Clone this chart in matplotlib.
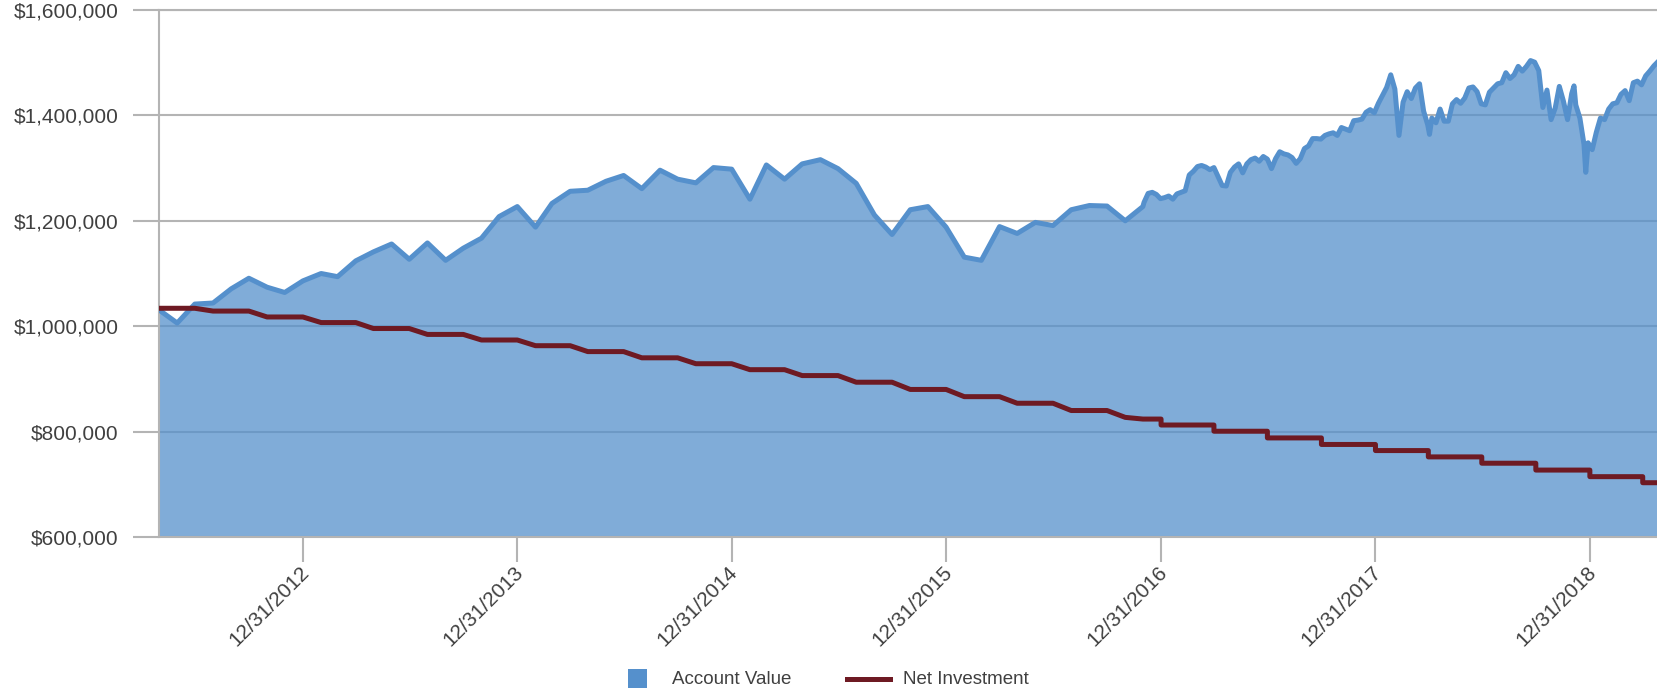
import numpy as np
import pandas as pd
import matplotlib
matplotlib.use("Agg")
import matplotlib.pyplot as plt
import matplotlib.dates as mdates
import matplotlib.ticker as mticker
import matplotlib.transforms as mtransforms
from matplotlib.patches import Rectangle
from matplotlib.lines import Line2D

plt.rcParams['font.family'] = ['Liberation Sans', 'DejaVu Sans']

BLUE = '#5590cc'
RED = '#6e1a23'
GRID = '#b4b4b4'
TEXT = '#404040'

# account value, month ends Apr 2012 - Nov 2016 (thousands of $)
monthly_dates = pd.date_range('2012-04-30', periods=56, freq=pd.offsets.MonthEnd())
monthly_value = [1031, 1006, 1042, 1044, 1071, 1091, 1074, 1064,
                 1086, 1100, 1094, 1124, 1141, 1156, 1127, 1158, 1125, 1148, 1167, 1208,
                 1227, 1188, 1233, 1256, 1258, 1275, 1286, 1261, 1296, 1279, 1272, 1301,
                 1298, 1241, 1306, 1279, 1308, 1316, 1299, 1271, 1211, 1174, 1221, 1227,
                 1188, 1131, 1125, 1189, 1176, 1197, 1191, 1221, 1229, 1228, 1200, 1227]

# account value, weekly from Dec 2016 on
weekly_dates = pd.date_range('2016-12-02', '2019-04-26', freq='W-FRI')
weekly_value = [1235, 1252, 1254, 1250, 1242, 1244, 1247, 1241, 1251, 1254,
                1257, 1287, 1294, 1303, 1305, 1302, 1297, 1301, 1284, 1267,
                1266, 1292, 1302, 1308, 1291, 1308, 1316, 1319, 1313, 1322,
                1317, 1299, 1318, 1331, 1327, 1325, 1320, 1309, 1318, 1337,
                1342, 1356, 1356, 1355, 1362, 1365, 1367, 1362, 1377, 1374,
                1371, 1390, 1391, 1393, 1406, 1411, 1405, 1423, 1438, 1453,
                1477, 1450, 1362, 1425, 1445, 1432, 1452, 1460, 1408, 1382,
                1395, 1386, 1412, 1389, 1389, 1422, 1430, 1423, 1433, 1452,
                1454, 1445, 1422, 1420, 1444, 1452, 1460, 1462, 1481, 1470,
                1477, 1493, 1484, 1493, 1504, 1501, 1485, 1415, 1448, 1392,
                1414, 1455, 1427, 1392, 1441, 1420, 1395, 1345, 1348, 1335,
                1368, 1395, 1392, 1412, 1422, 1424, 1440, 1447, 1428, 1462,
                1465, 1458, 1475, 1484, 1494, 1502]

# a few single days where the daily line spikes
spike_dates = pd.to_datetime(['2018-04-02', '2018-12-04', '2018-12-24'])
spike_value = [1364, 1456, 1292]

# net investment (thousands of $)
monthly_invest = [1034, 1034, 1034, 1028.7, 1028.7, 1028.7, 1017.5, 1017.5,
                  1017.5, 1006.9, 1006.9, 1006.9, 995.6, 995.6, 995.6, 984.4, 984.4, 984.4, 973.8, 973.8,
                  973.8, 963.0, 963.0, 963.0, 951.8, 951.8, 951.8, 940.0, 940.0, 940.0, 928.8, 928.8,
                  928.8, 917.5, 917.5, 917.5, 906.3, 906.3, 906.3, 893.7, 893.7, 893.7, 880.0, 880.0,
                  880.0, 866.3, 866.3, 866.3, 853.8, 853.8, 853.8, 840.0, 840.0, 840.0, 827.0, 823.8]
step_dates = pd.to_datetime(['2016-12-31', '2017-03-31', '2017-06-30', '2017-09-30', '2017-12-31',
                             '2018-03-31', '2018-06-30', '2018-09-30', '2018-12-31', '2019-03-31'])
step_invest = [812.5, 800.7, 788.0, 775.6, 764.0, 752.0, 740.0, 727.0, 714.5, 703.0]
end_date = pd.Timestamp('2019-04-26')

tick_dates = pd.to_datetime(['2012-12-31', '2013-12-31', '2014-12-31', '2015-12-31',
                             '2016-12-31', '2017-12-31', '2018-12-31'])

# assemble series
acct = pd.concat([pd.Series(monthly_value, index=monthly_dates),
                  pd.Series(weekly_value, index=weekly_dates),
                  pd.Series(spike_value, index=spike_dates)]).sort_index() * 1000

inv_x = list(monthly_dates)
inv_y = list(monthly_invest)
level = monthly_invest[-1]
for d, v in zip(step_dates, step_invest):
    inv_x += [d, d]
    inv_y += [level, v]
    level = v
inv_x.append(end_date)
inv_y.append(level)
inv_y = np.array(inv_y) * 1000

W, H = 1658, 691
fig = plt.figure(figsize=(W / 100, H / 100), dpi=100)
ax = fig.add_axes([159 / W, 1 - 537 / H, 1 - 159 / W, 527 / H])

ax.fill_between(acct.index, 600000, acct.values, color=BLUE, alpha=0.75, lw=0, zorder=2)
ax.plot(acct.index, acct.values, color=BLUE, lw=3.6, zorder=3, solid_joinstyle='round')
ax.plot(inv_x, inv_y, color=RED, lw=3.6, zorder=4)

ax.set_ylim(600000, 1600000)
ax.set_xlim(pd.Timestamp('2012-04-30'), end_date)
ax.set_yticks(np.arange(600000, 1600001, 200000))
ax.yaxis.set_major_formatter(mticker.FuncFormatter(lambda v, p: f"${v:,.0f}"))
ax.set_xticks(tick_dates)
ax.xaxis.set_major_formatter(mdates.DateFormatter('%m/%d/%Y'))

ax.set_axisbelow(True)
ax.yaxis.grid(True, color=GRID, lw=1.5, zorder=1)
ax.spines['right'].set_visible(False)
for s in ['left', 'bottom', 'top']:
    ax.spines[s].set_color(GRID)
    ax.spines[s].set_linewidth(1.5)

ax.tick_params(axis='y', length=18.5, width=1.5, color=GRID, pad=10.5,
               labelsize=15, labelcolor=TEXT)
ax.tick_params(axis='x', length=18, width=1.5, color=GRID, pad=5,
               labelsize=15, labelcolor=TEXT)
shift = mtransforms.ScaledTranslation(3 / 100, 0, fig.dpi_scale_trans)
for lab in ax.get_xticklabels():
    lab.set_rotation(45)
    lab.set_ha('right')
    lab.set_va('center')
    lab.set_rotation_mode('anchor')
    lab.set_transform(lab.get_transform() + shift)

# legend along the bottom
ly = 1 - 679 / H
fig.patches.append(Rectangle((628 / W, 1 - 688 / H), 19 / W, 19 / H,
                             transform=fig.transFigure, color=BLUE, lw=0))
fig.text(672 / W, ly, 'Account Value', va='center', fontsize=13.5, color=TEXT)
fig.add_artist(Line2D([847 / W, 890 / W], [ly, ly], color=RED, lw=3.6,
                      transform=fig.transFigure))
fig.text(903 / W, ly, 'Net Investment', va='center', fontsize=13.5, color=TEXT)

fig.savefig('out.png', dpi=100)
